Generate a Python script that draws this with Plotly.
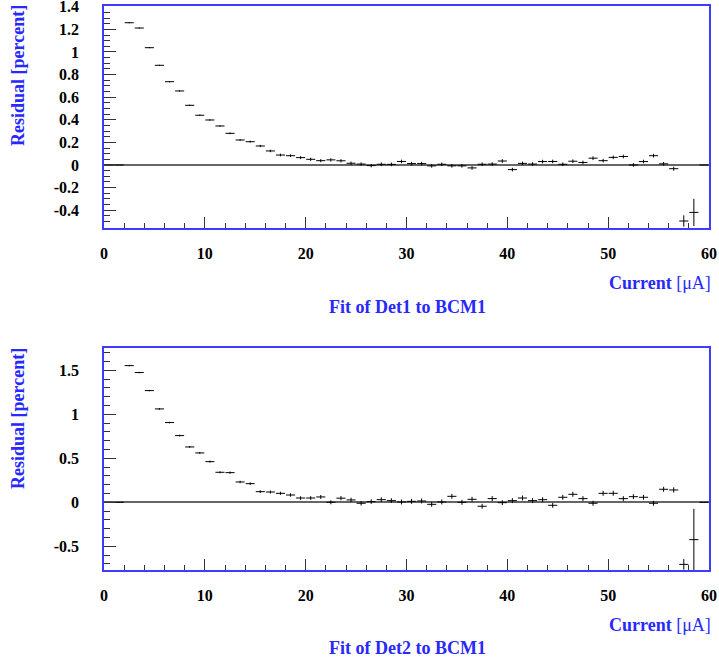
import plotly.graph_objects as go

# Bin centres of the beam-current histogram [uA]
current = [0.5, 1.5, 2.5, 3.5, 4.5, 5.5, 6.5, 7.5, 8.5, 9.5,
           10.5, 11.5, 12.5, 13.5, 14.5, 15.5, 16.5, 17.5, 18.5, 19.5,
           20.5, 21.5, 22.5, 23.5, 24.5, 25.5, 26.5, 27.5, 28.5, 29.5,
           30.5, 31.5, 32.5, 33.5, 34.5, 35.5, 36.5, 37.5, 38.5, 39.5,
           40.5, 41.5, 42.5, 43.5, 44.5, 45.5, 46.5, 47.5, 48.5, 49.5,
           50.5, 51.5, 52.5, 53.5, 54.5, 55.5, 56.5, 57.5, 58.5, 59.5]
bin_half_width = 0.45

# Det1 vs BCM1 residuals [percent]
det1_resid = [0.0, 0.0, 1.259, 1.212, 1.038, 0.882, 0.737, 0.655, 0.528, 0.440,
              0.398, 0.345, 0.280, 0.221, 0.206, 0.168, 0.124, 0.088, 0.082, 0.065,
              0.050, 0.038, 0.045, 0.037, 0.015, 0.008, -0.006, 0.006, 0.005, 0.031,
              0.012, 0.012, -0.008, 0.006, -0.008, -0.008, -0.026, 0.006, 0.008, 0.035,
              -0.041, 0.014, 0.008, 0.030, 0.031, 0.006, 0.033, 0.022, 0.060, 0.038,
              0.067, 0.075, 0.000, 0.030, 0.082, 0.010, -0.033, -0.496, -0.420, 0.0]
det1_err = [0.0, 0.0, 0.005, 0.005, 0.005, 0.005, 0.006, 0.006, 0.006, 0.006,
            0.007, 0.007, 0.008, 0.008, 0.009, 0.010, 0.011, 0.012, 0.012, 0.013,
            0.014, 0.014, 0.015, 0.015, 0.015, 0.015, 0.015, 0.016, 0.016, 0.016,
            0.016, 0.016, 0.016, 0.016, 0.016, 0.016, 0.016, 0.016, 0.016, 0.016,
            0.016, 0.016, 0.016, 0.016, 0.016, 0.016, 0.016, 0.016, 0.016, 0.016,
            0.016, 0.016, 0.016, 0.016, 0.016, 0.016, 0.018, 0.05, 0.12, 0.0]

# Det2 vs BCM1 residuals [percent]
det2_resid = [0.0, 0.0, 1.553, 1.474, 1.269, 1.061, 0.906, 0.758, 0.629, 0.561,
              0.462, 0.341, 0.337, 0.231, 0.212, 0.121, 0.117, 0.102, 0.083, 0.049,
              0.049, 0.061, 0.000, 0.047, 0.027, -0.011, 0.008, 0.030, 0.019, 0.004,
              0.011, 0.015, -0.023, 0.004, 0.068, 0.000, 0.034, -0.045, 0.042, -0.004,
              0.019, 0.049, 0.019, 0.030, -0.034, 0.057, 0.091, 0.042, -0.011, 0.102,
              0.102, 0.042, 0.064, 0.057, -0.011, 0.148, 0.140, -0.705, -0.424, 0.0]
det2_err = [0.0, 0.0, 0.008, 0.008, 0.008, 0.009, 0.009, 0.010, 0.010, 0.011,
            0.012, 0.012, 0.013, 0.014, 0.015, 0.016, 0.017, 0.018, 0.019, 0.020,
            0.021, 0.022, 0.023, 0.024, 0.025, 0.026, 0.026, 0.027, 0.027, 0.028,
            0.028, 0.028, 0.028, 0.028, 0.028, 0.028, 0.028, 0.028, 0.028, 0.028,
            0.028, 0.028, 0.028, 0.028, 0.028, 0.028, 0.028, 0.028, 0.028, 0.028,
            0.028, 0.028, 0.028, 0.028, 0.028, 0.028, 0.03, 0.06, 0.35, 0.0]

x_ticks = [0, 10, 20, 30, 40, 50, 60]

W, H = 719, 662
BLUE = "rgb(40,40,255)"
FRAME = "rgb(60,60,255)"
FONT = "Liberation Serif"


def px(x):
    return x / W


def py(y):
    return 1 - y / H


fig = go.Figure()

for resid, err, xa, ya in [(det1_resid, det1_err, "x", "y"),
                           (det2_resid, det2_err, "x2", "y2")]:
    fig.add_trace(go.Scatter(
        x=current, y=resid, mode="markers",
        marker=dict(size=1, color="rgba(0,0,0,0)"),
        error_x=dict(type="constant", value=bin_half_width, color="black",
                     thickness=1, width=0),
        error_y=dict(type="data", array=err, color="black",
                     thickness=1, width=0),
        xaxis=xa, yaxis=ya, showlegend=False, cliponaxis=True,
    ))

xcommon = dict(
    range=[0, 60], tickvals=x_ticks, ticks="inside", ticklen=11,
    tickcolor="#333", tickwidth=1,
    minor=dict(dtick=2, ticks="inside", ticklen=5, tickcolor="#333", tickwidth=1),
    showline=True, linecolor=FRAME, linewidth=2, mirror=True,
    showgrid=False, zeroline=False, automargin=False,
    tickfont=dict(family=FONT, size=16, color="black", weight="bold"),
    ticklabelstandoff=10, ticklabeloverflow="allow",
)
ycommon = dict(
    ticks="inside", tickcolor="#333", tickwidth=1,
    showline=True, linecolor=FRAME, linewidth=1.5, mirror=True,
    showgrid=False, zeroline=True, zerolinecolor="#666", zerolinewidth=1.5,
    automargin=False,
    tickfont=dict(family=FONT, size=16, color="black", weight="bold"),
    ticklabelstandoff=20, ticklabeloverflow="allow",
)

fig.update_layout(
    width=W, height=H, margin=dict(l=0, r=0, t=0, b=0, autoexpand=False),
    paper_bgcolor="white", plot_bgcolor="white",
    xaxis=dict(domain=[px(104), px(709)], anchor="y", **xcommon),
    yaxis=dict(domain=[py(228), py(6)], anchor="x", range=[-0.558, 1.407],
               tickvals=[-0.4, -0.2, 0, 0.2, 0.4, 0.6, 0.8, 1, 1.2, 1.4],
               ticktext=["-0.4", "-0.2", "0", "0.2", "0.4", "0.6", "0.8", "1", "1.2", "1.4"],
               ticklen=12,
               minor=dict(dtick=0.05, ticks="inside", ticklen=6, tickcolor="#333", tickwidth=1),
               **ycommon),
    xaxis2=dict(domain=[px(104), px(709)], anchor="y2", **xcommon),
    yaxis2=dict(domain=[py(570), py(348)], anchor="x2", range=[-0.769, 1.753],
                tickvals=[-0.5, 0, 0.5, 1, 1.5],
                ticktext=["-0.5", "0", "0.5", "1", "1.5"],
                ticklen=12,
                minor=dict(dtick=0.1, ticks="inside", ticklen=6, tickcolor="#333", tickwidth=1),
                **ycommon),
)

titles = [("Fit of Det1 to BCM1", 76, 283, 307),
          ("Fit of Det2 to BCM1", 419, 625, 648)]
for text, ylab_y, cur_y, fit_y in titles:
    fig.add_annotation(x=px(18), y=py(ylab_y), xref="paper", yref="paper",
                       text="<b>Residual [percent]</b>", textangle=-90, showarrow=False,
                       font=dict(family=FONT, size=18, color=BLUE),
                       xanchor="center", yanchor="middle")
    fig.add_annotation(x=px(713), y=py(cur_y), xref="paper", yref="paper",
                       text="<b>Current</b> [\u03bcA]", showarrow=False,
                       font=dict(family=FONT, size=18, color=BLUE),
                       xanchor="right", yanchor="middle")
    fig.add_annotation(x=px(407), y=py(fit_y), xref="paper", yref="paper",
                       text="<b>" + text + "</b>", showarrow=False,
                       font=dict(family=FONT, size=18, color=BLUE),
                       xanchor="center", yanchor="middle")

fig.write_html("out.html")
